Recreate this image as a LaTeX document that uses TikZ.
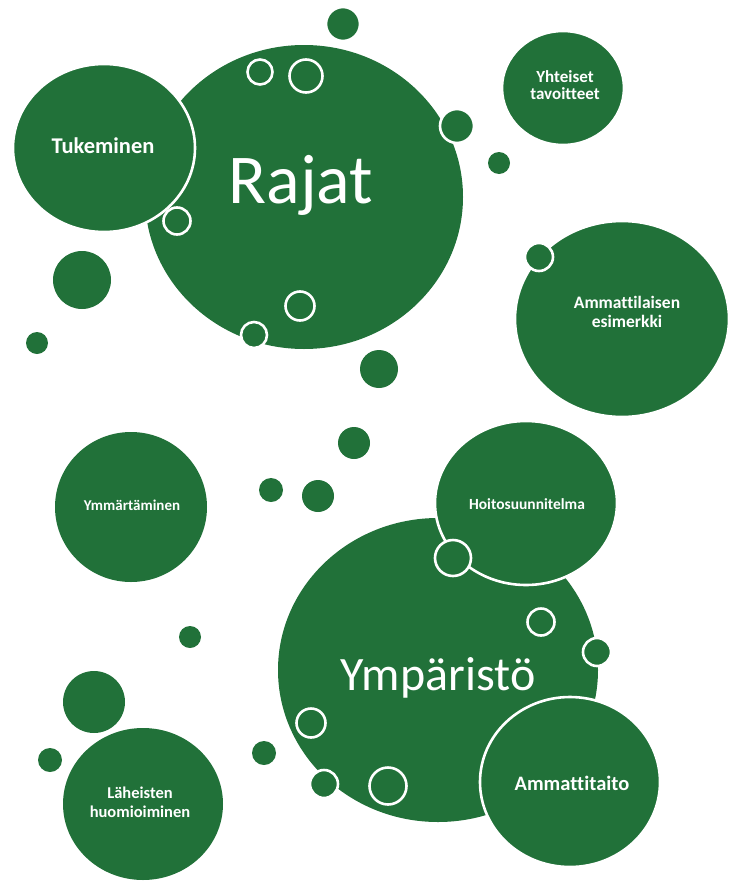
\documentclass[tikz,border=0pt]{standalone}
\usepackage{fontspec}
\setmainfont{Carlito}[Ligatures=NoCommon]
\definecolor{bubble}{RGB}{33,113,57}

\begin{document}
\begin{tikzpicture}[x=1pt,y=-1pt]
            \tikzset{
                blob/.style={fill=bubble,draw=white,line width=2.6pt},
                ring/.style={fill=bubble,draw=white,line width=2.6pt},
                dot/.style={fill=bubble},
                lbl/.style={text=white,font=\bfseries,align=center,inner sep=0pt},}
            \useasboundingbox (0,0) rectangle (729,881);
            % upper group
            \fill[bubble] (304,197) ellipse [x radius=159,y radius=152];
            \draw[blob] (104,148) ellipse [x radius=91,y radius=84];
            \draw[blob] (343,24) circle (17);
            \draw[ring] (260,72) circle (12.5);
            \draw[ring] (306,76) circle (16.5);
            \draw[blob] (457,126) circle (17);
            \draw[ring] (177,221) circle (13.5);
            \draw[ring] (300,306) circle (14.5);
            \draw[blob] (254,335) circle (13);
            \fill[dot] (499,163) circle (11);
            \fill[dot] (82,280) circle (29);
            \fill[dot] (37,343) circle (11);
            \draw[blob] (563,88) ellipse [x radius=61,y radius=57];
            \draw[blob] (622,319) ellipse [x radius=107,y radius=98];
            \draw[blob] (539,257) circle (14);
            \node[lbl,text=white,font=\fontsize{70}{84}\selectfont,anchor=base] (rajat) at (301,203) {Rajat};
            \node[lbl,font=\bfseries\fontsize{22.5}{27}\selectfont,anchor=base] (tukeminen) at (103,153) {Tukeminen};
            \node[lbl,font=\bfseries\fontsize{17}{16.5}\selectfont] (tavoitteet) at (565,85) {Yhteiset\\tavoitteet};
            \node[lbl,font=\bfseries\fontsize{17.5}{19.5}\selectfont] (esimerkki) at (627,312) {Ammattilaisen\\esimerkki};
            % middle
            \fill[dot] (379,369) circle (19);
            \fill[dot] (354,443) circle (16);
            \fill[dot] (271,490) circle (12);
            \fill[dot] (318,496) circle (16);
            \fill[bubble] (131,507) ellipse [x radius=76,y radius=75];
            \node[lbl,font=\bfseries\fontsize{15}{18}\selectfont,anchor=base] (ymmartaminen) at (132,510) {Ymmärtäminen};
            % lower group
            \fill[bubble] (438,670) ellipse [x radius=160,y radius=152];
            \draw[blob] (526,503) ellipse [x radius=91,y radius=82];
            \draw[ring] (453,558) circle (18);
            \draw[ring] (541,622) circle (13.5);
            \draw[blob] (597,652) circle (14);
            \draw[ring] (311,723) circle (14.5);
            \fill[dot] (264,753) circle (12);
            \draw[blob] (324,784) circle (14);
            \draw[ring] (388,786) circle (18.5);
            \draw[blob] (570,782) ellipse [x radius=90,y radius=85];
            \fill[dot] (190,637) circle (11);
            \fill[dot] (94,702) circle (31);
            \fill[dot] (50,760) circle (12);
            \fill[bubble] (143,804) ellipse [x radius=80,y radius=76];
            \node[lbl,font=\fontsize{48}{58}\selectfont,anchor=base] (ymparisto) at (438,690) {Ympäristö};
            \node[lbl,font=\bfseries\fontsize{15.5}{18}\selectfont,anchor=base] (hoito) at (527,509) {Hoitosuunnitelma};
            \node[lbl,font=\bfseries\fontsize{20.5}{24}\selectfont,anchor=base] (ammattitaito) at (572,790) {Ammattitaito};
            \node[lbl,font=\bfseries\fontsize{16.5}{19}\selectfont] (laheiset) at (140,802) {Läheisten\\huomioiminen};
            % \draw [white](0,0) grid (729,881);
        \end{tikzpicture}
\end{document}
